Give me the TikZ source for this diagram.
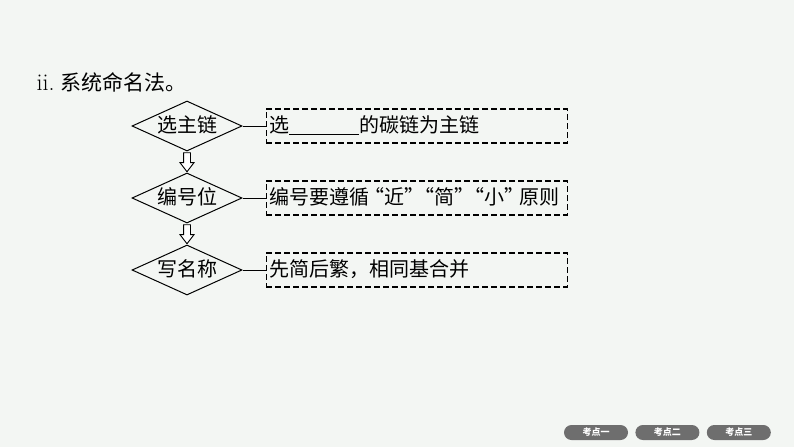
\documentclass[tikz,border=0pt]{standalone}
\usepackage{fontspec}
\newfontfamily\cjk{Noto Sans CJK SC}
\usetikzlibrary{shapes.geometric, shapes.arrows, positioning, calc}
\definecolor{pagebg}{RGB}{243,246,243}
\definecolor{tabgray}{RGB}{110,110,110}
\newcommand\quoted[1]{\makebox[15pt][r]{“}#1\makebox[15pt][l]{”}}

\begin{document}
\begin{tikzpicture}[
    x=1pt, y=1pt,
    node distance=21pt,
    stage/.style={
        diamond,
        aspect=2.2,
        draw=black,
        line width=1pt,
        inner sep=0pt,
        text height=15pt,
        text depth=3pt,
        minimum width=110pt,
        minimum height=50pt,
        font=\cjk\fontsize{20}{24}\selectfont
    },
    note/.style={
        rectangle,
        draw=black,
        dash pattern=on 6pt off 3pt,
        line width=1.2pt,
        inner xsep=3pt,
        inner ysep=0pt,
        text width=295pt,
        text height=16pt,
        text depth=4pt,
        align=left,
        minimum height=34pt,
        font=\cjk\fontsize{20}{24}\selectfont
    },
    blockarrow/.style={
        single arrow,
        draw=black,
        line width=0.9pt,
        fill=white,
        shape border rotate=270,
        inner sep=3pt,
        minimum height=19pt,
        single arrow head extend=3.5pt,
        single arrow tip angle=75
    },
    link/.style={
        line width=1pt,
        black
    },
    tab/.style={
        rectangle,
        rounded corners=7.5pt,
        fill=tabgray,
        text=white,
        inner sep=0pt,
        minimum width=64pt,
        minimum height=15pt,
        font=\cjk\bfseries\fontsize{9}{10}\selectfont
    }
]

% page background
\fill[pagebg] (0,0) rectangle (794,-447);
\useasboundingbox (0,0) rectangle (794,-447);

% heading
\node[anchor=west, font=\fontsize{24}{28}\selectfont] (title) at (33,-82) {ii.\hspace{6pt}{\cjk\fontsize{21}{24}\selectfont 系统命名法。}};

% steps
\node[stage] (chain) at (187,-126) {选主链};
\node[stage, below=of chain] (numbering) {编号位};
\node[stage, below=of numbering] (naming) {写名称};

% notes
\node[note, right=23pt of chain] (chain-note) {选\rule[-3pt]{70pt}{1pt}的碳链为主链};
\node[note, right=23pt of numbering] (numbering-note) {编号要遵循\quoted{近}\quoted{简}\quoted{小}原则};
\node[note, right=23pt of naming] (naming-note) {先简后繁，相同基合并};

% hollow arrows between steps
\node[blockarrow, yshift=2pt] (arrow1) at ($(chain.south)!0.5!(numbering.north)$) {};
\node[blockarrow, yshift=2pt] (arrow2) at ($(numbering.south)!0.5!(naming.north)$) {};

% links to notes
\draw[link] (chain.east) -- (chain-note.west);
\draw[link] (numbering.east) -- (numbering-note.west);
\draw[link] (naming.east) -- (naming-note.west);

% navigation tabs
\node[tab] (tab1) at (596,-432.5) {考点一};
\node[tab, right=7pt of tab1] (tab2) {考点二};
\node[tab, right=7pt of tab2] (tab3) {考点三};

\end{tikzpicture}
\end{document}
